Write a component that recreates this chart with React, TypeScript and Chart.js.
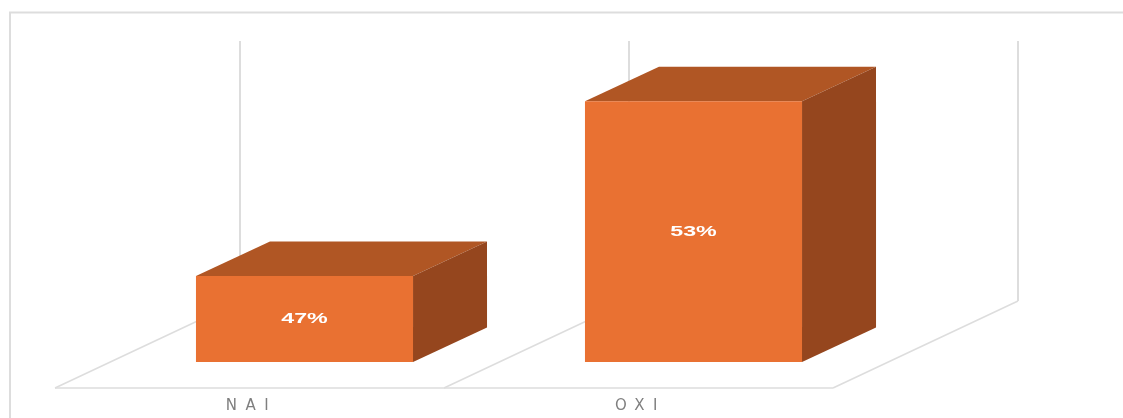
import React, { useEffect, useRef } from "react";
import { Chart, registerables } from "chart.js";

Chart.register(...registerables);

const categories = ["NAI", "OXI"];
const shares = [47, 53];
const valueLabels = ["47%", "53%"];

const FRONT = "#E97132";
const TOP = "#B05624";
const SIDE = "#95461E";
const GRID = "#DDDDDD";
const DEPTH_X = 74;
const DEPTH_Y = 34.5;

const scenePlugin = {
  id: "scene",
  beforeDraw(chart: any) {
    const { ctx, chartArea } = chart;
    const { left, width, bottom, top } = chartArea;
    const step = width / categories.length;
    const line = (pts: number[][], w: number) => {
      ctx.beginPath();
      ctx.moveTo(pts[0][0], pts[0][1]);
      pts.slice(1).forEach((p) => ctx.lineTo(p[0], p[1]));
      ctx.lineWidth = w;
      ctx.strokeStyle = GRID;
      ctx.stroke();
    };
    ctx.save();
    line([[10, 418], [10, 12.5], [1123, 12.5]], 2);
    const floorFront = bottom + 26;
    const floorBack = bottom - 61;
    line([[left - 55, floorFront], [left - 55 + width, floorFront]], 1.5);
    for (let i = 0; i <= categories.length; i++) {
      const x = left + step * i;
      line([[x - 55, floorFront], [x + 130, floorBack]], 1.5);
      line([[x + 130, floorBack], [x + 130, top - 2]], 2);
    }
    ctx.restore();
    // spaced-out axis letters, inherited by the tick text; reset after the axes are drawn
    ctx.save();
    ctx.letterSpacing = "8.5px";
  },
  beforeDatasetsDraw(chart: any) {
    const { ctx, chartArea } = chart;
    ctx.restore();
    ctx.save();
    chart.getDatasetMeta(0).data.forEach((bar: any) => {
      const l = bar.x - bar.width / 2;
      const r = bar.x + bar.width / 2;
      const t = bar.y;
      const b = chartArea.bottom;
      ctx.fillStyle = TOP;
      ctx.beginPath();
      ctx.moveTo(l, t);
      ctx.lineTo(l + DEPTH_X, t - DEPTH_Y);
      ctx.lineTo(r + DEPTH_X, t - DEPTH_Y);
      ctx.lineTo(r, t);
      ctx.closePath();
      ctx.fill();
      ctx.fillStyle = SIDE;
      ctx.beginPath();
      ctx.moveTo(r, t);
      ctx.lineTo(r + DEPTH_X, t - DEPTH_Y);
      ctx.lineTo(r + DEPTH_X, b - DEPTH_Y);
      ctx.lineTo(r, b);
      ctx.closePath();
      ctx.fill();
    });
    ctx.restore();
  },
  afterDatasetsDraw(chart: any) {
    const { ctx, chartArea } = chart;
    chart.getDatasetMeta(0).data.forEach((bar: any, i: number) => {
      ctx.save();
      ctx.translate(bar.x, (bar.y + chartArea.bottom) / 2);
      ctx.scale(1.5, 1);
      ctx.fillStyle = "#FFFFFF";
      ctx.font = 'bold 15.5px "Liberation Sans"';
      ctx.textAlign = "center";
      ctx.textBaseline = "middle";
      ctx.fillText(valueLabels[i], 0, 0);
      ctx.restore();
    });
  },
};

export default function App() {
  const ref = useRef<HTMLCanvasElement | null>(null);
  useEffect(() => {
    const chart = new Chart(ref.current as HTMLCanvasElement, {
      type: "bar",
      data: {
        labels: categories,
        datasets: [
          {
            data: shares,
            backgroundColor: FRONT,
            barPercentage: 0.558,
            categoryPercentage: 1,
          },
        ],
      },
      options: {
        animation: false,
        responsive: false,
        layout: { padding: { left: 110, right: 235, top: 43, bottom: 0 } },
        plugins: { legend: { display: false }, tooltip: { enabled: false } },
        scales: {
          x: {
            grid: { display: false, drawTicks: false },
            border: { display: false },
            afterFit(scale: any) {
              scale.height = 56;
            },
            ticks: {
              color: "#7F7F7F",
              font: { family: "DejaVu Sans", size: 15 },
              padding: 35,
              labelOffset: -53,
              maxRotation: 0,
            },
          },
          y: { display: false, min: 44.05, max: 55 },
        },
      },
      plugins: [scenePlugin],
    } as any);
    return () => chart.destroy();
  }, []);
  return (
    <canvas
      ref={ref}
      width={1123}
      height={418}
      style={{ position: "absolute", left: 0, top: 0, display: "block", filter: "blur(0.4px)" }}
    />
  );
}
